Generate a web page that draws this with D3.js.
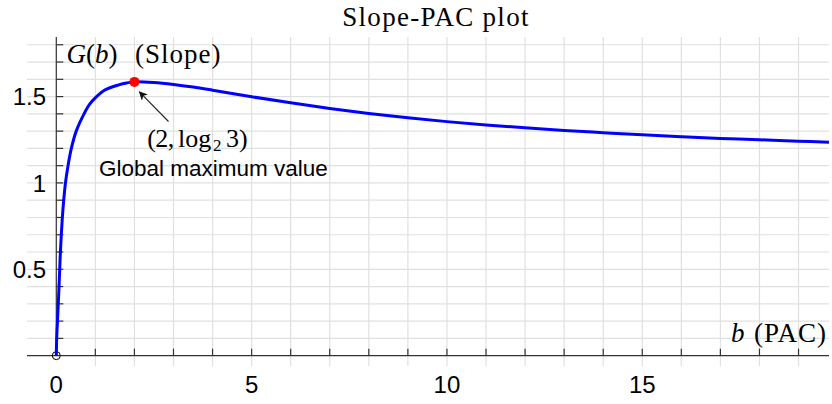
<!DOCTYPE html>
<html>
<head>
<meta charset="utf-8">
<script src="https://cdn.jsdelivr.net/npm/d3@7"></script>
<style>
  html, body { margin: 0; padding: 0; background: #fff; }
  svg { display: block; }
  .serif { font-family: "Liberation Serif", "Times New Roman", serif; fill: #000; }
  .sans { font-family: "Liberation Sans", Arial, Helvetica, sans-serif; fill: #000; }
</style>
</head>
<body>
<svg id="chart" width="832" height="404"></svg>
<script>
// Slope G(b) against PAC b
const bValues = [0, 0.01, 0.03, 0.05, 0.07, 0.087, 0.105, 0.128, 0.155, 0.19, 0.235, 0.30, 0.385, 0.51, 0.71, 0.85, 1.03, 1.25, 1.6, 1.8, 2, 2.5, 3, 3.5, 4, 5, 6, 7, 8, 9, 10, 11, 12, 13, 14, 15, 16, 17, 18, 19, 19.78];
const gValues = [0, 0.10, 0.20, 0.30, 0.40, 0.50, 0.60, 0.70, 0.80, 0.90, 1.00, 1.10, 1.20, 1.30, 1.40, 1.455, 1.50, 1.539, 1.568, 1.579, 1.585, 1.581, 1.570, 1.555, 1.537, 1.499, 1.464, 1.431, 1.402, 1.377, 1.355, 1.336, 1.319, 1.304, 1.291, 1.279, 1.268, 1.258, 1.250, 1.242, 1.236];

// Global maximum (2, log2 3)
const peakB = 2;
const peakG = 1.585;

const xTickLabels = [0, 5, 10, 15];
const yTickLabels = [0.5, 1, 1.5];
const xMinorTicks = d3.range(1, 20);
const yMinorTicks = d3.range(1, 19).map(i => i / 10);

const svg = d3.select("#chart");

const x = d3.scaleLinear().domain([-0.75, 19.78]).range([27, 829]);
const y = d3.scaleLinear().domain([-0.06, 1.845]).range([366, 37]);

// grid
const grid = svg.append("g").attr("stroke", "#e0e0e0").attr("stroke-width", 1.2);
grid.selectAll("line.v").data(xMinorTicks).join("line")
  .attr("x1", d => x(d)).attr("x2", d => x(d))
  .attr("y1", y(1.845)).attr("y2", y(-0.06));
grid.selectAll("line.h").data(yMinorTicks).join("line")
  .attr("x1", x(-0.75)).attr("x2", x(19.78))
  .attr("y1", d => y(d)).attr("y2", d => y(d));

// axes
const axisColor = "#333";
svg.append("line")
  .attr("x1", x(-0.75)).attr("x2", x(19.78))
  .attr("y1", y(0)).attr("y2", y(0))
  .attr("stroke", axisColor).attr("stroke-width", 1.2);
svg.append("line")
  .attr("x1", x(0)).attr("x2", x(0))
  .attr("y1", y(1.845)).attr("y2", y(0))
  .attr("stroke", axisColor).attr("stroke-width", 1.2);

svg.append("g").selectAll("line").data(xMinorTicks).join("line")
  .attr("x1", d => x(d)).attr("x2", d => x(d))
  .attr("y1", y(0)).attr("y2", y(0) - 7)
  .attr("stroke", axisColor).attr("stroke-width", 1.2);
svg.append("g").selectAll("line").data(yMinorTicks).join("line")
  .attr("x1", x(0)).attr("x2", x(0) + 7)
  .attr("y1", d => y(d)).attr("y2", d => y(d))
  .attr("stroke", axisColor).attr("stroke-width", 1.2);

// tick labels
svg.append("g").selectAll("text").data(xTickLabels).join("text")
  .attr("class", "sans")
  .attr("x", d => x(d)).attr("y", 393)
  .attr("text-anchor", "middle")
  .attr("font-size", 24)
  .text(d => d);
svg.append("g").selectAll("text").data(yTickLabels).join("text")
  .attr("class", "sans")
  .attr("x", 46).attr("y", d => y(d) + 8.6)
  .attr("text-anchor", "end")
  .attr("font-size", 24)
  .text(d => d);

// origin marker
svg.append("circle")
  .attr("cx", x(0)).attr("cy", y(0)).attr("r", 4)
  .attr("fill", "none").attr("stroke", "#000").attr("stroke-width", 1);

// curve
const pts = bValues.map((b, i) => [b, gValues[i]]);
const line = d3.line().x(d => x(d[0])).y(d => y(d[1])).curve(d3.curveCatmullRom.alpha(0.5));
svg.append("path")
  .datum(pts)
  .attr("d", line)
  .attr("fill", "none")
  .attr("stroke", "#0000ff")
  .attr("stroke-width", 3)
  .attr("stroke-linejoin", "round");

// annotation arrow
const defs = svg.append("defs");
defs.append("marker")
  .attr("id", "arrow")
  .attr("viewBox", "0 0 10 10")
  .attr("refX", 9).attr("refY", 5)
  .attr("markerWidth", 9).attr("markerHeight", 9)
  .attr("markerUnits", "userSpaceOnUse")
  .attr("orient", "auto")
  .append("path")
  .attr("d", "M0,0 L10,5 L0,10 L3,5 Z")
  .attr("fill", "#111");
svg.append("line")
  .attr("x1", 168.5).attr("y1", 121.5)
  .attr("x2", x(peakB) + 5).attr("y2", y(peakG) + 10)
  .attr("stroke", "#222").attr("stroke-width", 1.1)
  .attr("marker-end", "url(#arrow)");

// peak marker
svg.append("circle")
  .attr("cx", x(peakB)).attr("cy", y(peakG)).attr("r", 5)
  .attr("fill", "#ff0000");

// title
svg.append("text").attr("class", "serif")
  .attr("x", 436).attr("y", 26)
  .attr("text-anchor", "middle")
  .attr("font-size", 27).attr("letter-spacing", 1.3)
  .text("Slope-PAC plot");

// y axis label
const yl = svg.append("text").attr("class", "serif")
  .attr("x", 66.5).attr("y", 63)
  .attr("font-size", 27);
yl.append("tspan").attr("font-style", "italic").text("G");
yl.append("tspan").text("(");
yl.append("tspan").attr("font-style", "italic").text("b");
yl.append("tspan").text(")");
svg.append("text").attr("class", "serif")
  .attr("x", 135).attr("y", 63)
  .attr("font-size", 27).attr("letter-spacing", 1)
  .text("(Slope)");

// x axis label
svg.append("text").attr("class", "serif")
  .attr("x", 731).attr("y", 342)
  .attr("font-size", 27).attr("font-style", "italic")
  .text("b");
svg.append("text").attr("class", "serif")
  .attr("x", 754).attr("y", 342)
  .attr("font-size", 27).attr("letter-spacing", 1)
  .text("(PAC)");

// point label
const pl = svg.append("text").attr("class", "serif")
  .attr("y", 147).attr("font-size", 26);
pl.append("tspan").attr("x", 147.3).attr("letter-spacing", -0.6).text("(2,");
pl.append("tspan").attr("x", 178).text("log");
pl.append("tspan").attr("x", 213).attr("dy", 4).attr("font-size", 17).text("2");
pl.append("tspan").attr("x", 226).attr("dy", -4).text("3)");

svg.append("text").attr("class", "sans")
  .attr("x", 99).attr("y", 176)
  .attr("font-size", 22.5)
  .text("Global maximum value");
</script>
</body>
</html>
